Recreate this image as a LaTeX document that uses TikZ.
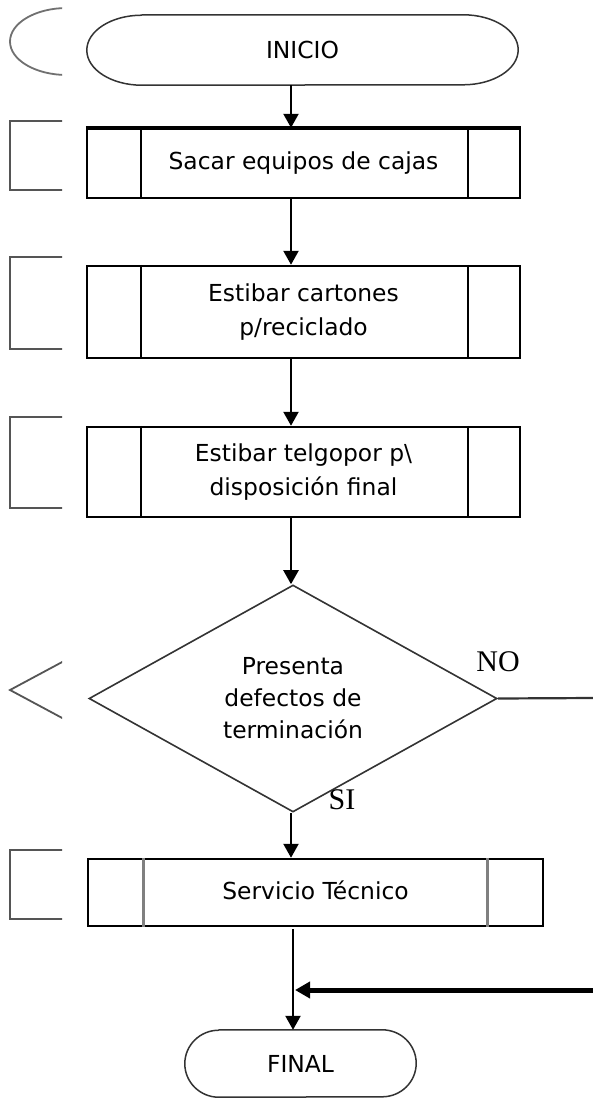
\documentclass[tikz,border=0pt]{standalone}
\usepackage{fontspec}
\setmainfont{DejaVu Sans}
\newfontfamily\lblfont{Liberation Serif}
\usetikzlibrary{arrows.meta,shapes.geometric}
\definecolor{ghost}{HTML}{555555}
\definecolor{ghostarc}{HTML}{707070}
\definecolor{outl}{HTML}{333333}
\definecolor{innergray}{HTML}{808080}
\tikzset{
  proc/.style={draw=black, line width=2.5pt, rectangle, inner sep=0pt, align=center,
    font=\fontsize{23.4}{34}\selectfont},
  termtext/.style={inner sep=0pt, font=\fontsize{23.4}{26}\selectfont},
  termline/.style={draw=outl, line width=1.5pt},
  dec/.style={diamond, draw=outl, line width=1.6pt, inner sep=0pt, align=center,
    font=\fontsize{23.4}{32}\selectfont},
  arr/.style={line width=2.4pt, -{Triangle[width=15pt,length=14pt]}},
  ghostline/.style={draw=ghost, line width=2.2pt},
  lbl/.style={inner sep=0pt, font=\lblfont\fontsize{30}{32}\selectfont},
}
\begin{document}
\begin{tikzpicture}[x=1pt,y=-1pt]
\useasboundingbox (0,0) rectangle (593,1098);
\fill[white] (0,0) rectangle (593,1098);

% ghost shapes at the left, cut off
\begin{scope}
\clip (0,0) rectangle (62,1098);
\draw[draw=ghostarc, line width=1.8pt] (120,8) -- (67,8)
  arc[start angle=90, end angle=270, x radius=57pt, y radius=33.5pt] -- (120,75);
\draw[ghostline] (120,121) -- (10,121) -- (10,190) -- (120,190);
\draw[ghostline] (120,257) -- (10,257) -- (10,349) -- (120,349);
\draw[ghostline] (120,417) -- (10,417) -- (10,508) -- (120,508);
\draw[ghostline, line width=1.8pt] (120,631) -- (10,690) -- (120,749);
\draw[ghostline] (120,850) -- (10,850) -- (10,919) -- (120,919);
\end{scope}

\coordinate (axis) at (291,0);
\coordinate (axisb) at (293,0);

% INICIO
\node[termtext, minimum width=431pt, minimum height=70pt] (inicio) at (302.5,50) {INICIO};
\draw[termline] ([xshift=55pt]inicio.north west) -- ([xshift=-55pt]inicio.north east)
  arc[start angle=90, end angle=-90, x radius=55pt, y radius=35pt]
  -- ([xshift=55pt]inicio.south west)
  arc[start angle=270, end angle=90, x radius=55pt, y radius=35pt];

% process boxes
\node[proc, minimum width=433pt, minimum height=69pt] (b1) at (303.5,163.5)
  {\raisebox{6pt}{Sacar equipos de cajas}};
\draw[line width=4.5pt] (b1.north west) -- (b1.north east);
\draw[line width=1.8pt] ([xshift=55pt]b1.north west) -- ([xshift=55pt]b1.south west);
\draw[line width=1.8pt] ([xshift=-53pt]b1.north east) -- ([xshift=-53pt]b1.south east);

\node[proc, minimum width=433pt, minimum height=92pt] (b2) at (303.5,312)
  {Estibar cartones\\p/reciclado};
\draw[line width=1.8pt] ([xshift=55pt]b2.north west) -- ([xshift=55pt]b2.south west);
\draw[line width=1.8pt] ([xshift=-53pt]b2.north east) -- ([xshift=-53pt]b2.south east);

\node[proc, minimum width=433pt, minimum height=90pt] (b3) at (303.5,472)
  {Estibar telgopor p\textbackslash\\disposición final};
\draw[line width=1.8pt] ([xshift=55pt]b3.north west) -- ([xshift=55pt]b3.south west);
\draw[line width=1.8pt] ([xshift=-53pt]b3.north east) -- ([xshift=-53pt]b3.south east);

% decision
\node[dec, minimum width=408pt, minimum height=227pt, aspect=1.8] (d) at (293,698.5)
  {Presenta\\defectos de\\terminación};
\node[lbl] (no) at (498,662) {NO};
\node[lbl] (si) at (342,800) {SI};

% Servicio Tecnico
\node[proc, minimum width=455pt, minimum height=67pt] (b5) at (315.5,892.5)
  {\raisebox{5pt}{Servicio Técnico}};
\draw[draw=innergray, line width=3pt] ([xshift=57pt]b5.north west) -- ([xshift=57pt]b5.south west);
\draw[draw=innergray, line width=3pt] ([xshift=-57pt]b5.north east) -- ([xshift=-57pt]b5.south east);

% FINAL
\node[termtext, minimum width=231pt, minimum height=67pt] (final) at (300.5,1063.5) {FINAL};
\draw[termline] ([xshift=34pt]final.north west) -- ([xshift=-34pt]final.north east)
  arc[start angle=90, end angle=-90, x radius=34pt, y radius=33.5pt]
  -- ([xshift=34pt]final.south west)
  arc[start angle=270, end angle=90, x radius=34pt, y radius=33.5pt];

% connectors
\draw[arr] (inicio.south -| axis) -- (b1.north -| axis);
\draw[arr] (b1.south -| axis) -- (b2.north -| axis);
\draw[arr] (b2.south -| axis) -- (b3.north -| axis);
\draw[arr] (b3.south -| axis) -- (d.north -| axis);
\draw[arr] (d.south -| axis) -- (b5.north -| axis);
\draw[arr] ([yshift=-2pt]b5.south -| axisb) -- (final.north -| axisb);

\coordinate (noout) at (593,698);
\coordinate (noin) at (593,990);
\coordinate (join) at (295,990);
\draw[draw=outl, line width=2.2pt] (d.east) -- (noout);
\draw[line width=5pt, -{Triangle[width=16pt,length=15pt]}] (noin) -- (join);
\end{tikzpicture}
\end{document}
